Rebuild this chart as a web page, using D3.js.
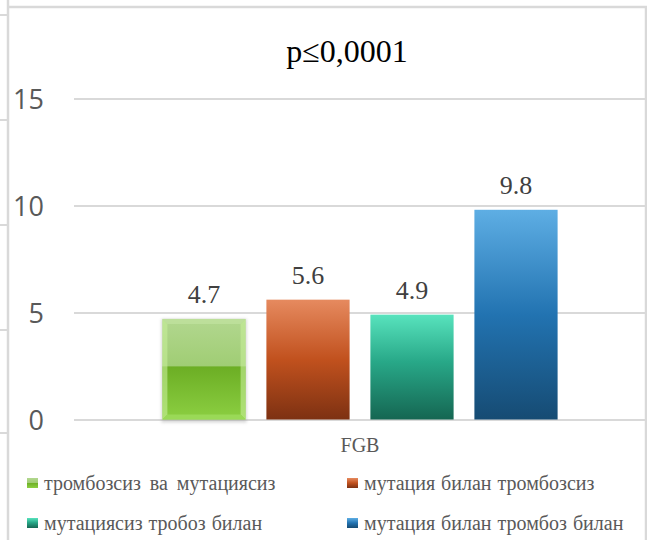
<!DOCTYPE html>
<html>
<head>
<meta charset="utf-8">
<script src="https://cdn.jsdelivr.net/npm/d3@7"></script>
<style>
  html, body { margin: 0; padding: 0; background: #fff; }
  svg { display: block; }
  .serif { font-family: 'Liberation Serif', 'Times New Roman', serif; }
  .sans { font-family: 'Open Sans', sans-serif; }
</style>
</head>
<body>
<svg id="chart" width="647" height="540"></svg>
<script>
// Chart data
const categories = ["FGB"];
const seriesNames = [
  "тромбозсиз ва мутациясиз",
  "мутация билан тромбозсиз",
  "мутациясиз тробоз билан",
  "мутация билан тромбоз билан"
];
const seriesValues = [4.7, 5.6, 4.9, 9.8];
const yTicks = [0, 5, 10, 15];
const titleText = "p≤0,0001";

const svg = d3.select("#chart");
const W = 647, H = 540;
const plot = { left: 74, right: 646, top: 98.5, bottom: 419.5 };
const grey = "#d9d9d9";

const y = d3.scaleLinear().domain([0, 15]).range([plot.bottom, plot.top]);
const x0 = d3.scaleBand().domain(categories).range([plot.left, plot.right])
  .paddingInner(0).paddingOuter(0.1875);
const x1 = d3.scaleBand().domain(seriesNames).range([0, x0.bandwidth()])
  .paddingInner(0.2).paddingOuter(0.1);

// Gradients for bar fills
const defs = svg.append("defs");
function vgrad(id, stops) {
  const g = defs.append("linearGradient").attr("id", id)
    .attr("x1", 0).attr("y1", 0).attr("x2", 0).attr("y2", 1);
  stops.forEach(s => g.append("stop").attr("offset", s[0]).attr("stop-color", s[1]));
}
vgrad("gGreen", [[0, "#b2d78f"], [0.47, "#a0cd74"], [0.475, "#6cae24"], [1, "#8ccf42"]]);
vgrad("gOrange", [[0, "#e68a5f"], [0.5, "#c1511e"], [1, "#7d3112"]]);
vgrad("gTeal", [[0, "#58e3bd"], [0.45, "#28a888"], [1, "#156652"]]);
vgrad("gBlue", [[0, "#5eaee4"], [0.5, "#2273b1"], [1, "#164b73"]]);
const fills = ["url(#gGreen)", "url(#gOrange)", "url(#gTeal)", "url(#gBlue)"];

const blur = defs.append("filter").attr("id", "soft").attr("x", "-20%").attr("y", "-20%")
  .attr("width", "140%").attr("height", "140%");
blur.append("feGaussianBlur").attr("stdDeviation", 1.5);

// Outer frame: table borders around the chart
const frame = svg.append("g").attr("stroke", grey).attr("stroke-width", 2.5).attr("fill", "none");
frame.append("line").attr("x1", 8).attr("x2", 8).attr("y1", 0).attr("y2", H);
frame.append("line").attr("x1", 8).attr("x2", W).attr("y1", 7).attr("y2", 7);
frame.append("line").attr("x1", 646).attr("x2", 646).attr("y1", 7).attr("y2", H);
[15, 120, 225, 330, 433].forEach(yy =>
  frame.append("line").attr("x1", 0).attr("x2", 7).attr("y1", yy).attr("y2", yy).attr("stroke-width", 2));

// Title
svg.append("text").attr("class", "serif").attr("x", 347).attr("y", 62).attr("text-anchor", "middle")
  .style("font-size", "32px").attr("fill", "#000").text(titleText);

// Gridlines and y-axis labels
const yAxis = d3.axisLeft(y).tickValues(yTicks).tickSize(-(plot.right - plot.left)).tickPadding(30);
const ga = svg.append("g").attr("transform", `translate(${plot.left},0)`).call(yAxis);
ga.attr("font-family", null).attr("font-size", null);
ga.select(".domain").remove();
ga.selectAll(".tick line").attr("stroke", grey).attr("stroke-width", 2);
ga.selectAll(".tick text").attr("class", "sans").style("font-size", "27px")
  .attr("fill", "#595959").attr("dy", "0.36em");

// Category axis label
const xAxis = d3.axisBottom(x0).tickSize(0).tickPadding(18);
const gx = svg.append("g").attr("transform", `translate(0,${plot.bottom})`).call(xAxis);
gx.attr("font-family", null).attr("font-size", null);
gx.select(".domain").remove();
gx.selectAll(".tick text").attr("class", "serif").style("font-size", "20px").attr("fill", "#595959");

// Bars
const group = svg.append("g").attr("transform", `translate(${x0(categories[0])},0)`);
const bw = x1.bandwidth();
seriesNames.forEach((name, i) => {
  const bx = x1(name), by = y(seriesValues[i]), bh = y(0) - y(seriesValues[i]);
  if (i === 0) {
    // soft shadow behind the bevelled bar
    group.append("rect").attr("x", bx - 1).attr("y", by).attr("width", bw + 2).attr("height", bh + 3)
      .attr("fill", "#9a9a9a").attr("opacity", 0.4).attr("filter", "url(#soft)");
  }
  group.append("rect").attr("x", bx).attr("y", by).attr("width", bw).attr("height", bh)
    .attr("fill", fills[i]);
  if (i === 0) {
    // bevel edges
    const e = 5, x2 = bx + bw, y2 = by + bh;
    const bev = [
      { p: [[bx, by], [x2, by], [x2 - e, by + e], [bx + e, by + e]], c: "#c4e4a4", o: 0.6 },
      { p: [[bx, by], [bx + e, by + e], [bx + e, y2 - e], [bx, y2]], c: "#c6ee9a", o: 0.6 },
      { p: [[x2, by], [x2, y2], [x2 - e, y2 - e], [x2 - e, by + e]], c: "#c6ee9a", o: 0.6 },
      { p: [[bx, y2], [bx + e, y2 - e], [x2 - e, y2 - e], [x2, y2]], c: "#9edc5c", o: 0.8 }
    ];
    bev.forEach(b => group.append("polygon").attr("points", b.p.map(q => q.join(",")).join(" "))
      .attr("fill", b.c).attr("opacity", b.o));
  }
  group.append("text").attr("class", "serif").attr("x", bx + bw / 2).attr("y", by - 16)
    .attr("text-anchor", "middle").style("font-size", "26px")
    .attr("fill", "#404040").text(seriesValues[i]);
});

// Legend
const legendPos = [[27, 478], [347, 478], [27, 518], [347, 518]];
seriesNames.forEach((name, i) => {
  const [lx, ly] = legendPos[i];
  const g = svg.append("g").attr("transform", `translate(${lx},${ly})`);
  g.append("rect").attr("width", 11).attr("height", 10).attr("fill", fills[i]);
  g.append("text").attr("class", "serif").attr("x", 17).attr("y", 12)
    .style("font-size", "20px").attr("fill", "#595959")
    .style("word-spacing", i === 0 ? "4px" : "1px").text(name);
});
</script>
</body>
</html>
